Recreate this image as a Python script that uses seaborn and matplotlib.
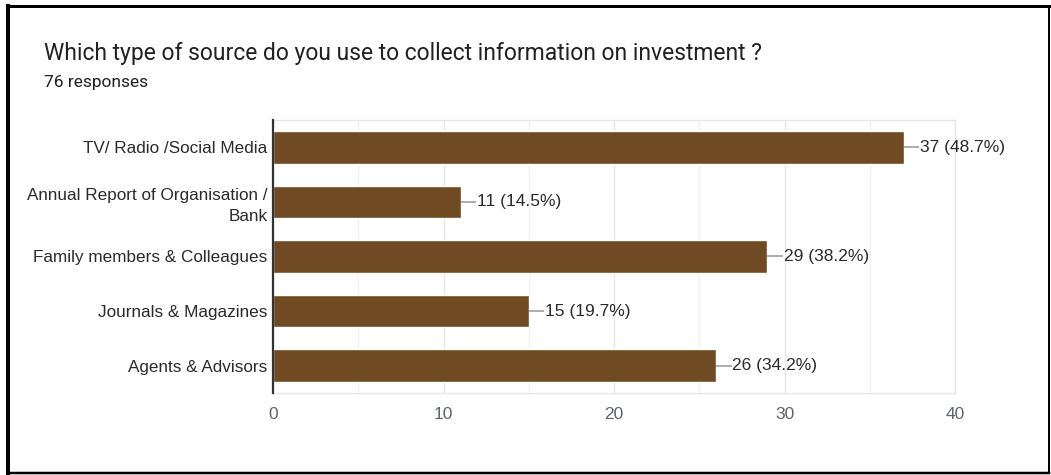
import matplotlib
matplotlib.use("Agg")
import matplotlib.pyplot as plt
from matplotlib.lines import Line2D
from matplotlib.ticker import MultipleLocator
import seaborn as sns
import pandas as pd

# Survey answers
categories = [
    "TV/ Radio /Social Media",
    "Annual Report of Organisation /\nBank",
    "Family members & Colleagues",
    "Journals & Magazines",
    "Agents & Advisors",
]
counts = [37, 11, 29, 15, 26]
total_responses = 76
x_ticks = [0, 10, 20, 30, 40]

title_text = "Which type of source do you use to collect information on investment ?"
subtitle_text = f"{total_responses} responses"

bar_color = "#704a22"
W, H = 1051, 475

sns.set_theme(style="white")
plt.rcParams["font.family"] = ["Roboto", "DejaVu Sans"]
arial_like = ["Liberation Sans", "DejaVu Sans"]

df = pd.DataFrame({"source": categories, "count": counts})

fig = plt.figure(figsize=(W / 100, H / 100), dpi=100)
ax = fig.add_axes([273 / W, 1 - 393 / H, (955 - 273) / W, (393 - 120) / H])

sns.barplot(data=df, x="count", y="source", orient="h", color=bar_color,
            width=0.6, saturation=1, ax=ax, zorder=3)

ax.set_xlim(0, 40)
ax.set_ylim(len(categories) - 0.5, -0.5)
ax.xaxis.set_major_locator(MultipleLocator(10))
ax.xaxis.set_minor_locator(MultipleLocator(5))
ax.set_xticks(x_ticks)
ax.grid(axis="x", which="major", color="#e6e6e6", linewidth=1.0, zorder=0)
ax.grid(axis="x", which="minor", color="#f1f1f1", linewidth=1.0, zorder=0)
ax.set_xlabel("")
ax.set_ylabel("")

for side in ("top", "right", "bottom"):
    ax.spines[side].set_color("#e6e6e6")
    ax.spines[side].set_linewidth(1.0)
ax.spines["left"].set_color("#333333")
ax.spines["left"].set_linewidth(1.6)
ax.spines["left"].set_zorder(5)

ax.tick_params(axis="x", length=0, pad=10, labelsize=12.5, labelcolor="#5f6368")
ax.tick_params(axis="y", length=0, pad=4, labelsize=12.3, labelcolor="#2a2a2a")
for lbl in ax.get_yticklabels():
    lbl.set_fontfamily(arial_like)
    lbl.set_horizontalalignment("right")
    lbl.set_multialignment("right")
    lbl.set_linespacing(1.45)
for lbl in ax.get_xticklabels():
    lbl.set_fontfamily(arial_like)

# Value labels with short leader lines
for i, v in enumerate(counts):
    pct = 100 * v / total_responses
    ax.plot([v, v + 0.9], [i, i], color="#9e9e9e", linewidth=1.2, zorder=4,
            solid_capstyle="butt")
    ax.text(v + 0.95, i, f"{v} ({pct:.1f}%)", va="center", ha="left",
            fontsize=12.5, color="#2a2a2a", family=arial_like)

fig.text(44 / W, 1 - 60 / H, title_text, fontsize=16.5, color="#202124",
         va="baseline", ha="left")
fig.text(44 / W, 1 - 87 / H, subtitle_text, fontsize=12.5, color="#202124",
         va="baseline", ha="left")

# Outer frame, drawn side by side since the edges differ in weight
def frame_line(x0, y0, x1, y1, px):
    fig.add_artist(Line2D([x0 / W, x1 / W], [1 - y0 / H, 1 - y1 / H],
                          transform=fig.transFigure, color="black",
                          linewidth=px * 0.72, solid_capstyle="projecting"))

frame_line(8, 5.5, 1049, 5.5, 3)     # top
frame_line(8, 5.5, 8, 473, 4)        # left
frame_line(1049, 5.5, 1049, 473, 2)  # right
frame_line(8, 473, 1049, 473, 2.5)   # bottom

fig.savefig("out.png", dpi=100)
